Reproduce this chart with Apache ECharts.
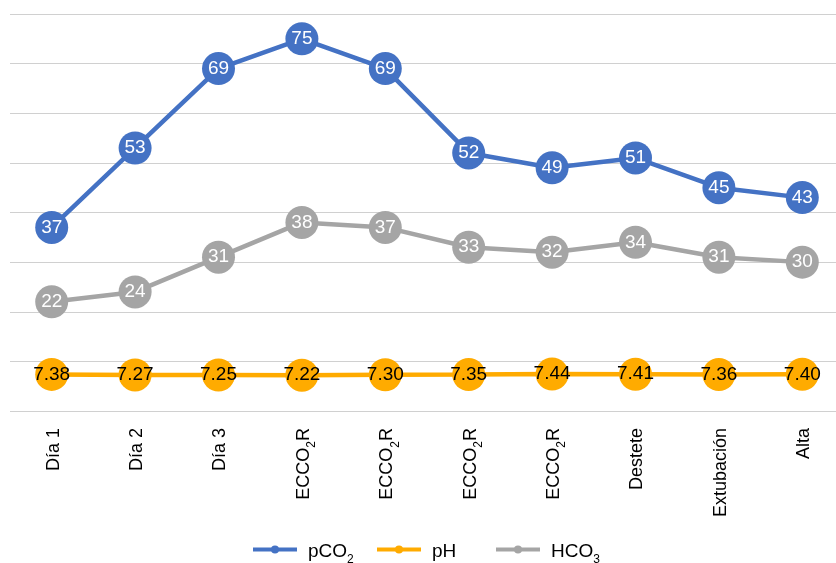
<!DOCTYPE html>
<html>
<head>
<meta charset="utf-8">
<style>
  html, body { margin: 0; padding: 0; background: #ffffff; }
  #chart { width: 836px; height: 563px; }
</style>
<script src="https://cdn.jsdelivr.net/npm/echarts@6/dist/echarts.min.js"></script>
</head>
<body>
<div id="chart"></div>
<script>
// Stages of follow-up
const categories = ['Día 1', 'Día 2', 'Día 3', 'ECCO2R', 'ECCO2R', 'ECCO2R', 'ECCO2R', 'Destete', 'Extubación', 'Alta'];

// Blood gas values per stage
const pco2 = [37, 53, 69, 75, 69, 52, 49, 51, 45, 43];
const ph = [7.38, 7.27, 7.25, 7.22, 7.30, 7.35, 7.44, 7.41, 7.36, 7.40];
const hco3 = [22, 24, 31, 38, 37, 33, 32, 34, 31, 30];

const seriesNames = ['pCO2', 'pH', 'HCO3'];
const colors = ['#4472C4', '#FFAB00', '#A5A5A5'];
const labelColors = ['#ffffff', '#000000', '#ffffff'];
const legendLeft = [246, 370, 489];

const FONT = '"Liberation Sans", Arial, Helvetica, sans-serif';

// Turns a digit after "CO" into a subscript rich-text token
function subscriptCO(text) {
  return text.replace(/^(.*CO)(\d)(.*)$/, function (m, a, d, b) {
    return '{n|' + a + '}{s|' + d + '}' + (b ? '{n|' + b + '}' : '');
  }).replace(/^(?!\{)(.*)$/, '{n|$1}');
}

function richText(size) {
  return {
    n: { fontSize: size, fontFamily: FONT, color: '#000', lineHeight: size + 4, verticalAlign: 'bottom' },
    s: { fontSize: 12, fontFamily: FONT, color: '#000', lineHeight: 16, verticalAlign: 'bottom', padding: [0, 0, -5, 0] }
  };
}

function makeSeries(name, data, i, fmt) {
  return {
    name: name,
    type: 'line',
    data: data,
    color: colors[i],
    symbol: 'circle',
    symbolSize: 33,
    lineStyle: { width: 4.5, color: colors[i] },
    itemStyle: { color: colors[i] },
    z: 3 - i,
    label: {
      show: true,
      position: 'inside',
      color: labelColors[i],
      fontSize: 19,
      fontFamily: FONT,
      formatter: fmt
    },
    emphasis: { disabled: true },
    animation: false
  };
}

// One legend block per series so each entry sits at its own position
const legends = seriesNames.map(function (name, i) {
  return {
    top: 537,
    left: legendLeft[i],
    itemWidth: 44,
    itemHeight: 10,
    data: [name],
    lineStyle: { width: 4 },
    formatter: function (n) { return subscriptCO(n); },
    textStyle: { fontFamily: FONT, fontSize: 19, color: '#000', padding: [0, 0, 0, 6], rich: richText(19) }
  };
});

const chart = echarts.init(document.getElementById('chart'), null, { renderer: 'canvas' });
chart.setOption({
  backgroundColor: '#ffffff',
  animation: false,
  grid: { left: 10, width: 834, top: 14, bottom: 152, containLabel: false, outerBoundsMode: 'none' },
  legend: legends,
  xAxis: {
    type: 'category',
    data: categories,
    boundaryGap: true,
    axisLine: { show: false },
    axisTick: { show: false },
    axisLabel: {
      rotate: 90,
      margin: 17,
      interval: 0,
      fontFamily: FONT,
      fontSize: 18,
      color: '#000',
      formatter: function (v) { return subscriptCO(v); },
      rich: richText(18)
    }
  },
  yAxis: {
    type: 'value',
    min: 0,
    max: 80,
    interval: 10,
    axisLabel: { show: false },
    axisLine: { show: false },
    axisTick: { show: false },
    splitLine: { show: true, lineStyle: { color: '#D0D0D0', width: 1.2 } }
  },
  series: [
    makeSeries(seriesNames[0], pco2, 0, function (p) { return String(p.value); }),
    makeSeries(seriesNames[1], ph, 1, function (p) { return p.value.toFixed(2); }),
    makeSeries(seriesNames[2], hco3, 2, function (p) { return String(p.value); })
  ]
});
</script>
</body>
</html>
